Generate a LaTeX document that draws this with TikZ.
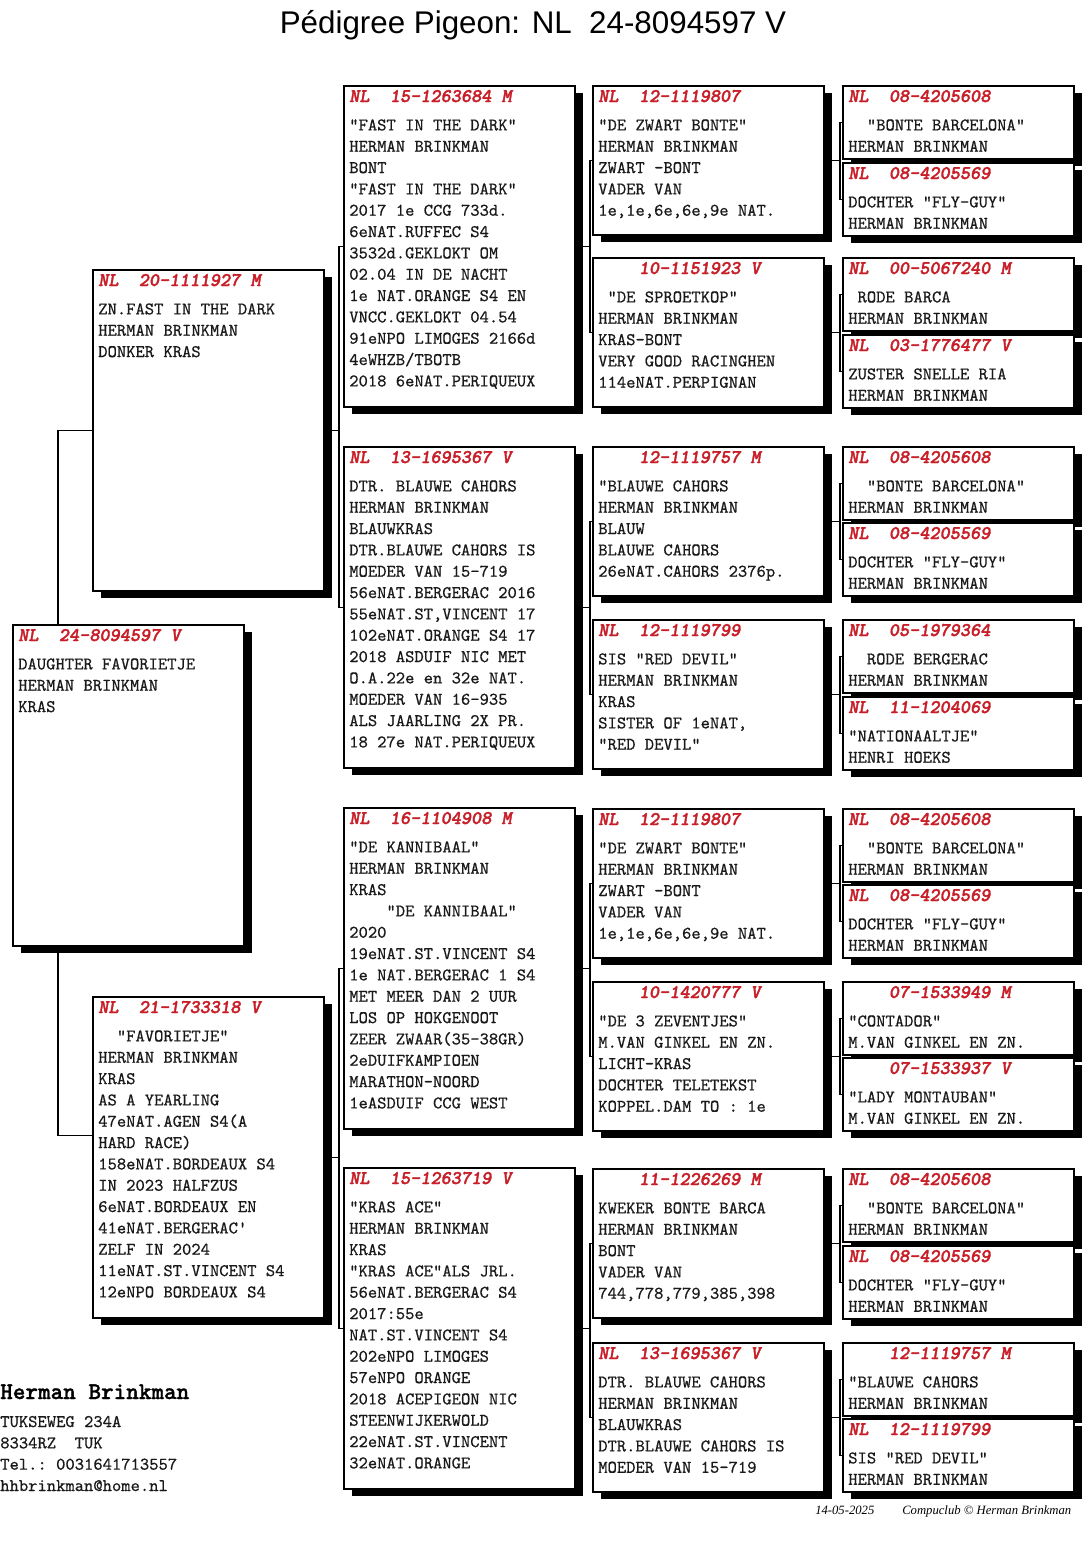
\documentclass[tikz,border=0pt]{standalone}
\usepackage{fontspec}
\setmainfont{Liberation Sans}
\setmonofont{lmmono10-regular.otf}[FakeBold=0.6]
\newfontfamily\hdrmono{lmmonolt10-boldoblique.otf}[FakeBold=1.8]
\newfontfamily\ownermono{lmmonolt10-bold.otf}[FakeBold=1.2]
\newfontfamily\stampfont{Liberation Serif}
\usetikzlibrary{shadows}
\definecolor{ringred}{RGB}{200,30,40}

\newcommand\bodyfont{\ttfamily\frenchspacing\fontsize{13.3}{16}\selectfont}
\newcommand\hdrfont{\hdrmono\fontsize{14.5}{16}\selectfont\color{ringred}}
\newcommand\pcard[2]{\begin{tabular}[t]{@{}l@{}}{\hdrfont #1}\\[5.3pt]#2\end{tabular}}

\begin{document}
\begin{tikzpicture}[x=0.75pt,y=-0.75pt,
    card/.style={draw,line width=1.1pt,fill=white,inner sep=0pt,outer sep=0pt,
      anchor=north west,minimum width=173.25pt,
      general shadow={fill=black,shadow xshift=6pt,shadow yshift=-5.25pt}},
    bigcard/.style={card,minimum height=240.75pt},
    midcard/.style={card,minimum height=111.75pt},
    smallcard/.style={card,minimum height=54.75pt},
    ptext/.style={anchor=base west,inner sep=0pt,font=\bodyfont,text=black!90},
    link/.style={line width=0.9pt}]
    \fill[white] (0,0) rectangle (1088,1563);
    \useasboundingbox (0,0) rectangle (1088,1563);

    \node[anchor=base,font=\fontsize{23.5}{28}\selectfont] (title) at (533,33) {Pédigree Pigeon: NL\ \ 24-8094597 V};

    % duif zelf + ouders
    \node[bigcard] (su) at (13,625) {};
    \node[ptext] (sut) at ([shift={(5,16)}]su.north west) {\pcard{NL\ \ 24-8094597 V}{DAUGHTER FAVORIETJE\\HERMAN BRINKMAN\\KRAS}};
    \node[bigcard] (fa) at (93,270) {};
    \node[ptext] (fat) at ([shift={(5,16)}]fa.north west) {\pcard{NL\ \ 20-1111927 M}{ZN.FAST IN THE DARK\\HERMAN BRINKMAN\\DONKER KRAS}};
    \node[bigcard] (mo) at (93,997) {};
    \node[ptext] (mot) at ([shift={(5,16)}]mo.north west) {\pcard{NL\ \ 21-1733318 V}{\ \ "FAVORIETJE"\\HERMAN BRINKMAN\\KRAS\\AS A YEARLING\\47eNAT.AGEN S4(A\\HARD RACE)\\158eNAT.BORDEAUX S4\\IN 2023 HALFZUS\\6eNAT.BORDEAUX EN\\41eNAT.BERGERAC'\\ZELF IN 2024\\11eNAT.ST.VINCENT S4\\12eNPO BORDEAUX S4}};

    % grootouders
    \node[bigcard] (ff) at (344,86) {};
    \node[ptext] (fft) at ([shift={(5,16)}]ff.north west) {\pcard{NL\ \ 15-1263684 M}{"FAST IN THE DARK"\\HERMAN BRINKMAN\\BONT\\"FAST IN THE DARK"\\2017 1e CCG 733d.\\6eNAT.RUFFEC S4\\3532d.GEKLOKT OM\\02.04 IN DE NACHT\\1e NAT.ORANGE S4 EN\\VNCC.GEKLOKT 04.54\\91eNPO LIMOGES 2166d\\4eWHZB/TBOTB\\2018 6eNAT.PERIQUEUX}};
    \node[bigcard] (fm) at (344,447) {};
    \node[ptext] (fmt) at ([shift={(5,16)}]fm.north west) {\pcard{NL\ \ 13-1695367 V}{DTR. BLAUWE CAHORS\\HERMAN BRINKMAN\\BLAUWKRAS\\DTR.BLAUWE CAHORS IS\\MOEDER VAN 15-719\\56eNAT.BERGERAC 2016\\55eNAT.ST,VINCENT 17\\102eNAT.ORANGE S4 17\\2018 ASDUIF NIC MET\\O.A.22e en 32e NAT.\\MOEDER VAN 16-935\\ALS JAARLING 2X PR.\\18 27e NAT.PERIQUEUX}};
    \node[bigcard] (mf) at (344,808) {};
    \node[ptext] (mft) at ([shift={(5,16)}]mf.north west) {\pcard{NL\ \ 16-1104908 M}{"DE KANNIBAAL"\\HERMAN BRINKMAN\\KRAS\\\ \ \ \ "DE KANNIBAAL"\\2020\\19eNAT.ST.VINCENT S4\\1e NAT.BERGERAC 1 S4\\MET MEER DAN 2 UUR\\LOS OP HOKGENOOT\\ZEER ZWAAR(35-38GR)\\2eDUIFKAMPIOEN\\MARATHON-NOORD\\1eASDUIF CCG WEST}};
    \node[bigcard] (mm) at (344,1168) {};
    \node[ptext] (mmt) at ([shift={(5,16)}]mm.north west) {\pcard{NL\ \ 15-1263719 V}{"KRAS ACE"\\HERMAN BRINKMAN\\KRAS\\"KRAS ACE"ALS JRL.\\56eNAT.BERGERAC S4\\2017:55e\\NAT.ST.VINCENT S4\\202eNPO LIMOGES\\57eNPO ORANGE\\2018 ACEPIGEON NIC\\STEENWIJKERWOLD\\22eNAT.ST.VINCENT\\32eNAT.ORANGE}};

    % overgrootouders
    \node[midcard] (fff) at (593,86) {};
    \node[ptext] (ffft) at ([shift={(5,16)}]fff.north west) {\pcard{NL\ \ 12-1119807}{"DE ZWART BONTE"\\HERMAN BRINKMAN\\ZWART -BONT\\VADER VAN\\1e,1e,6e,6e,9e NAT.}};
    \node[midcard] (ffm) at (593,258) {};
    \node[ptext] (ffmt) at ([shift={(5,16)}]ffm.north west) {\pcard{\ \ \ \ 10-1151923 V}{\ "DE SPROETKOP"\\HERMAN BRINKMAN\\KRAS-BONT\\VERY GOOD RACINGHEN\\114eNAT.PERPIGNAN}};
    \node[midcard] (fmf) at (593,447) {};
    \node[ptext] (fmft) at ([shift={(5,16)}]fmf.north west) {\pcard{\ \ \ \ 12-1119757 M}{"BLAUWE CAHORS\\HERMAN BRINKMAN\\BLAUW\\BLAUWE CAHORS\\26eNAT.CAHORS 2376p.}};
    \node[midcard] (fmm) at (593,620) {};
    \node[ptext] (fmmt) at ([shift={(5,16)}]fmm.north west) {\pcard{NL\ \ 12-1119799}{SIS "RED DEVIL"\\HERMAN BRINKMAN\\KRAS\\SISTER OF 1eNAT,\\"RED DEVIL"}};
    \node[midcard] (mff) at (593,809) {};
    \node[ptext] (mfft) at ([shift={(5,16)}]mff.north west) {\pcard{NL\ \ 12-1119807}{"DE ZWART BONTE"\\HERMAN BRINKMAN\\ZWART -BONT\\VADER VAN\\1e,1e,6e,6e,9e NAT.}};
    \node[midcard] (mfm) at (593,982) {};
    \node[ptext] (mfmt) at ([shift={(5,16)}]mfm.north west) {\pcard{\ \ \ \ 10-1420777 V}{"DE 3 ZEVENTJES"\\M.VAN GINKEL EN ZN.\\LICHT-KRAS\\DOCHTER TELETEKST\\KOPPEL.DAM TO : 1e}};
    \node[midcard] (mmf) at (593,1169) {};
    \node[ptext] (mmft) at ([shift={(5,16)}]mmf.north west) {\pcard{\ \ \ \ 11-1226269 M}{KWEKER BONTE BARCA\\HERMAN BRINKMAN\\BONT\\VADER VAN\\744,778,779,385,398}};
    \node[midcard] (mmm) at (593,1343) {};
    \node[ptext] (mmmt) at ([shift={(5,16)}]mmm.north west) {\pcard{NL\ \ 13-1695367 V}{DTR. BLAUWE CAHORS\\HERMAN BRINKMAN\\BLAUWKRAS\\DTR.BLAUWE CAHORS IS\\MOEDER VAN 15-719}};

    % betovergrootouders
    \node[smallcard] (ffff) at (843,86) {};
    \node[ptext] (fffft) at ([shift={(5,16)}]ffff.north west) {\pcard{NL\ \ 08-4205608}{\ \ "BONTE BARCELONA"\\HERMAN BRINKMAN}};
    \node[smallcard] (fffm) at (843,163) {};
    \node[ptext] (fffmt) at ([shift={(5,16)}]fffm.north west) {\pcard{NL\ \ 08-4205569}{DOCHTER "FLY-GUY"\\HERMAN BRINKMAN}};
    \node[smallcard] (ffmf) at (843,258) {};
    \node[ptext] (ffmft) at ([shift={(5,16)}]ffmf.north west) {\pcard{NL\ \ 00-5067240 M}{\ RODE BARCA\\HERMAN BRINKMAN}};
    \node[smallcard] (ffmm) at (843,335) {};
    \node[ptext] (ffmmt) at ([shift={(5,16)}]ffmm.north west) {\pcard{NL\ \ 03-1776477 V}{ZUSTER SNELLE RIA\\HERMAN BRINKMAN}};
    \node[smallcard] (fmff) at (843,447) {};
    \node[ptext] (fmfft) at ([shift={(5,16)}]fmff.north west) {\pcard{NL\ \ 08-4205608}{\ \ "BONTE BARCELONA"\\HERMAN BRINKMAN}};
    \node[smallcard] (fmfm) at (843,523) {};
    \node[ptext] (fmfmt) at ([shift={(5,16)}]fmfm.north west) {\pcard{NL\ \ 08-4205569}{DOCHTER "FLY-GUY"\\HERMAN BRINKMAN}};
    \node[smallcard] (fmmf) at (843,620) {};
    \node[ptext] (fmmft) at ([shift={(5,16)}]fmmf.north west) {\pcard{NL\ \ 05-1979364}{\ \ RODE BERGERAC\\HERMAN BRINKMAN}};
    \node[smallcard] (fmmm) at (843,697) {};
    \node[ptext] (fmmmt) at ([shift={(5,16)}]fmmm.north west) {\pcard{NL\ \ 11-1204069}{"NATIONAALTJE"\\HENRI HOEKS}};
    \node[smallcard] (mfff) at (843,809) {};
    \node[ptext] (mffft) at ([shift={(5,16)}]mfff.north west) {\pcard{NL\ \ 08-4205608}{\ \ "BONTE BARCELONA"\\HERMAN BRINKMAN}};
    \node[smallcard] (mffm) at (843,885) {};
    \node[ptext] (mffmt) at ([shift={(5,16)}]mffm.north west) {\pcard{NL\ \ 08-4205569}{DOCHTER "FLY-GUY"\\HERMAN BRINKMAN}};
    \node[smallcard] (mfmf) at (843,982) {};
    \node[ptext] (mfmft) at ([shift={(5,16)}]mfmf.north west) {\pcard{\ \ \ \ 07-1533949 M}{"CONTADOR"\\M.VAN GINKEL EN ZN.}};
    \node[smallcard] (mfmm) at (843,1058) {};
    \node[ptext] (mfmmt) at ([shift={(5,16)}]mfmm.north west) {\pcard{\ \ \ \ 07-1533937 V}{"LADY MONTAUBAN"\\M.VAN GINKEL EN ZN.}};
    \node[smallcard] (mmff) at (843,1169) {};
    \node[ptext] (mmfft) at ([shift={(5,16)}]mmff.north west) {\pcard{NL\ \ 08-4205608}{\ \ "BONTE BARCELONA"\\HERMAN BRINKMAN}};
    \node[smallcard] (mmfm) at (843,1246) {};
    \node[ptext] (mmfmt) at ([shift={(5,16)}]mmfm.north west) {\pcard{NL\ \ 08-4205569}{DOCHTER "FLY-GUY"\\HERMAN BRINKMAN}};
    \node[smallcard] (mmmf) at (843,1343) {};
    \node[ptext] (mmmft) at ([shift={(5,16)}]mmmf.north west) {\pcard{\ \ \ \ 12-1119757 M}{"BLAUWE CAHORS\\HERMAN BRINKMAN}};
    \node[smallcard] (mmmm) at (843,1419) {};
    \node[ptext] (mmmmt) at ([shift={(5,16)}]mmmm.north west) {\pcard{NL\ \ 12-1119799}{SIS "RED DEVIL"\\HERMAN BRINKMAN}};

    % lijnen
    \draw[link] (fa.west) -| ([xshift=33.75pt]su.north west);
    \draw[link] ([xshift=33.75pt]su.south west) |- ([yshift=16.5pt]mo.west);

    \coordinate (fav) at ([xshift=-3.75pt]ff.west);
    \draw[link] (ff.west) -- (fav) |- (fm.west);
    \draw[link] (fa.east) -- (fav |- fa.east);
    \coordinate (mov) at ([xshift=-3.75pt]mf.west);
    \draw[link] (mf.west) -- (mov) |- (mm.west);
    \draw[link] (mo.east) -- (mov |- mo.east);

    \coordinate (ffv) at ([xshift=-2.25pt]fff.west);
    \draw[link] (fff.west) -- (ffv) |- (ffm.west);
    \draw[link] (ff.east) -- (ffv |- ff.east);
    \coordinate (fmv) at ([xshift=-2.25pt]fmf.west);
    \draw[link] (fmf.west) -- (fmv) |- (fmm.west);
    \draw[link] (fm.east) -- (fmv |- fm.east);
    \coordinate (mfv) at ([xshift=-2.25pt]mff.west);
    \draw[link] (mff.west) -- (mfv) |- (mfm.west);
    \draw[link] (mf.east) -- (mfv |- mf.east);
    \coordinate (mmv) at ([xshift=-2.25pt]mmf.west);
    \draw[link] (mmf.west) -- (mmv) |- (mmm.west);
    \draw[link] (mm.east) -- (mmv |- mm.east);

    \coordinate (fffv) at ([xshift=-2.25pt]ffff.west);
    \draw[link] (ffff.west) -- (fffv) |- (fffm.west);
    \draw[link] (fff.east) -- (fffv |- fff.east);
    \coordinate (ffmv) at ([xshift=-2.25pt]ffmf.west);
    \draw[link] (ffmf.west) -- (ffmv) |- (ffmm.west);
    \draw[link] (ffm.east) -- (ffmv |- ffm.east);
    \coordinate (fmfv) at ([xshift=-2.25pt]fmff.west);
    \draw[link] (fmff.west) -- (fmfv) |- (fmfm.west);
    \draw[link] (fmf.east) -- (fmfv |- fmf.east);
    \coordinate (fmmv) at ([xshift=-2.25pt]fmmf.west);
    \draw[link] (fmmf.west) -- (fmmv) |- (fmmm.west);
    \draw[link] (fmm.east) -- (fmmv |- fmm.east);
    \coordinate (mffv) at ([xshift=-2.25pt]mfff.west);
    \draw[link] (mfff.west) -- (mffv) |- (mffm.west);
    \draw[link] (mff.east) -- (mffv |- mff.east);
    \coordinate (mfmv) at ([xshift=-2.25pt]mfmf.west);
    \draw[link] (mfmf.west) -- (mfmv) |- (mfmm.west);
    \draw[link] (mfm.east) -- (mfmv |- mfm.east);
    \coordinate (mmfv) at ([xshift=-2.25pt]mmff.west);
    \draw[link] (mmff.west) -- (mmfv) |- (mmfm.west);
    \draw[link] (mmf.east) -- (mmfv |- mmf.east);
    \coordinate (mmmv) at ([xshift=-2.25pt]mmmf.west);
    \draw[link] (mmmf.west) -- (mmmv) |- (mmmm.west);
    \draw[link] (mmm.east) -- (mmmv |- mmm.east);

    % eigenaar
    \node[anchor=base west,inner sep=0pt,font=\ownermono\fontsize{18}{20}\selectfont] (owner) at (0,1399) {Herman Brinkman};
    \node[ptext] (addr) at (0,1427) {\begin{tabular}[t]{@{}l@{}}TUKSEWEG 234A\\8334RZ\ \ TUK\\Tel.: 0031641713557\\hhbrinkman@home.nl\end{tabular}};
    \node[anchor=base west,inner sep=0pt,font=\stampfont\itshape\fontsize{9.5}{11}\selectfont] (date) at (815,1514) {14-05-2025};
    \node[anchor=base west,inner sep=0pt,font=\stampfont\itshape\fontsize{9.5}{11}\selectfont] (stamp) at (902,1514) {Compuclub © Herman Brinkman};
\end{tikzpicture}
\end{document}
